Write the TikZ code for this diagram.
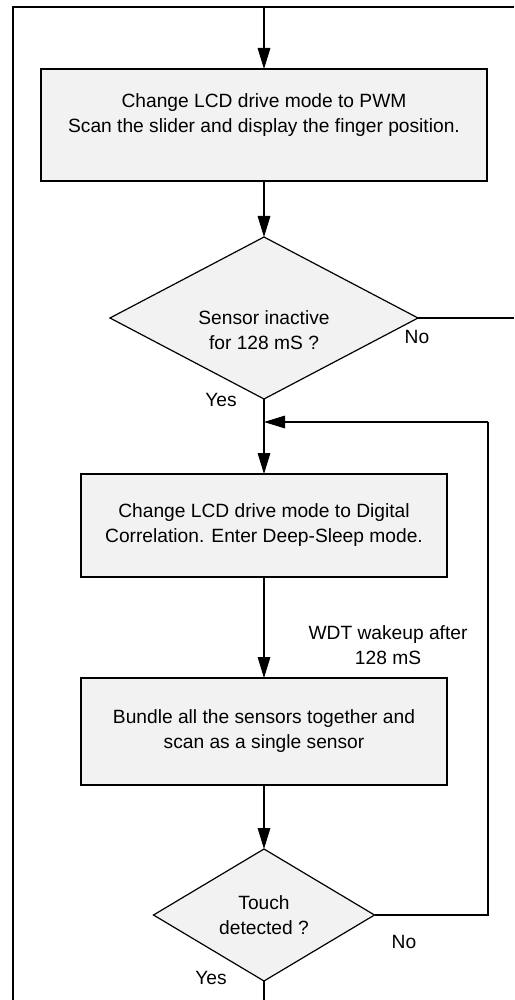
\documentclass[tikz,border=0pt]{standalone}
\usepackage{fontspec}
\setmainfont{Liberation Sans}
\usetikzlibrary{arrows.meta,shapes.geometric}
\definecolor{boxfill}{HTML}{F2F2F2}
\tikzset{
  flow/.style={line width=0.6pt, draw=black},
  arr/.style={flow, -{Triangle[length=10.5pt,width=6.3pt]}},
  procbox/.style={flow, rectangle, fill=boxfill, inner sep=0pt, outer sep=0pt},
  decision/.style={flow, diamond, fill=boxfill, inner sep=0pt, outer sep=0pt},
  txt/.style={font=\fontsize{9.6pt}{12.5pt}\selectfont, align=center, inner sep=0pt},
}
\begin{document}
\begin{tikzpicture}[x=0.5pt,y=-0.5pt]
  \useasboundingbox (0,0) rectangle (514,1000);

  % process boxes and decisions
  \node[procbox, minimum width=223pt, minimum height=56pt] (b1) at (264,125) {};
  \node[decision, minimum width=154pt, minimum height=81pt] (d1) at (264,318) {};
  \node[procbox, minimum width=183pt, minimum height=51.5pt] (b2) at (264,525.5) {};
  \node[procbox, minimum width=183pt, minimum height=53.5pt] (b3) at (264,731.5) {};
  \node[decision, minimum width=110.5pt, minimum height=66pt] (d2) at (264,915) {};

  % texts
  \node[txt] (t1) at (264,115) {Change LCD drive mode to PWM\\Scan the slider and display the finger position.};
  \node[txt] (t2) at (264,330) {Sensor inactive\\for 128 mS ?};
  \node[txt] (t3) at (264,525.5) {Change LCD drive mode to Digital\\Correlation. Enter Deep-Sleep mode.};
  \node[txt] (t4) at (264,731.5) {Bundle all the sensors together and\\scan as a single sensor};
  \node[txt] (t5) at (264,915) {Touch\\detected ?};
  \node[txt] (wdt) at (388,645) {WDT wakeup after\\128 mS};
  \node[txt] (no1) at (417,337) {No};
  \node[txt] (yes1) at (221,400) {Yes};
  \node[txt] (no2) at (404,942) {No};
  \node[txt] (yes2) at (211,978) {Yes};

  % route points
  \coordinate (bl) at (13,1000);
  \coordinate (tl) at (13,7);
  \coordinate (tr) at (514,7);
  \coordinate (tin) at (264,7);
  \coordinate (rout) at (514,318);
  \coordinate (jn) at (264,422);
  \coordinate (lpt) at (488,422);
  \coordinate (lpb) at (488,915);
  \coordinate (bot) at (264,1000);

  % connectors
  \draw[flow] (bl) -- (tl) -- (tr);
  \draw[arr] (tin) -- (b1);
  \draw[arr] (b1) -- (d1);
  \draw[flow] (d1.east) -- (rout);
  \draw[flow] (d1.south) -- (jn);
  \draw[arr] (jn) -- (b2);
  \draw[arr] (b2) -- (b3);
  \draw[arr] (b3) -- (d2);
  \draw[flow] (d2.east) -- (lpb) -- (lpt);
  \draw[arr] (lpt) -- (jn);
  \draw[flow] (d2.south) -- (bot);
\end{tikzpicture}
\end{document}
